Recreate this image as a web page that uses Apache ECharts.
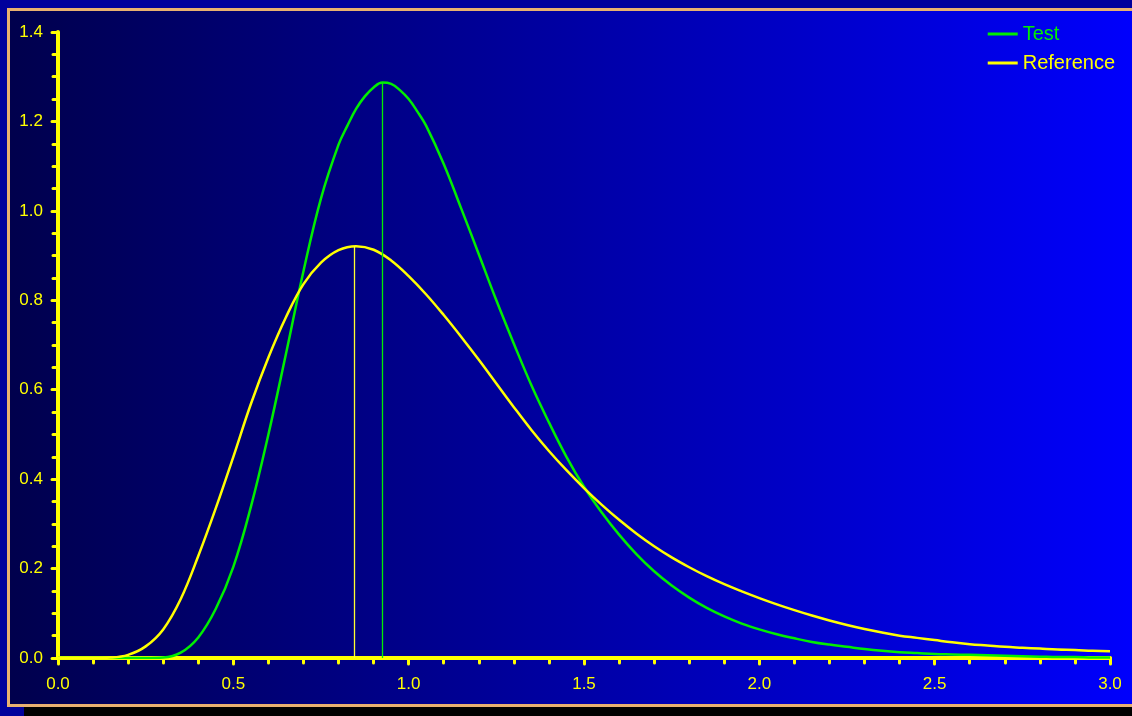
<!DOCTYPE html>
<html>
<head>
<meta charset="utf-8">
<script src="https://cdn.jsdelivr.net/npm/echarts@6/dist/echarts.min.js"></script>
<style>
html,body{margin:0;padding:0;background:#00009c;}
#c{width:1132px;height:716px;}
</style>
</head>
<body>
<div id="c"></div>
<script>
// ---- data ----
const testX = [0,0.05,0.1,0.15,0.2,0.25,0.3,0.35,0.4,0.45,0.5,0.55,0.6,0.65,0.7,0.75,
  0.8,0.825,0.85,0.875,0.9,0.925,0.95,0.975,1.0,1.025,1.05,
  1.1,1.15,1.2,1.25,1.3,1.35,1.4,1.45,1.5,1.55,1.6,1.65,1.7,1.75,1.8,1.85,1.9,1.95,
  2.0,2.05,2.1,2.15,2.2,2.25,2.3,2.35,2.4,2.45,2.5,2.55,2.6,2.65,2.7,2.75,2.8,2.85,2.9,2.95,3.0];
const testValues = [0,0,0,0,0,0,0.001,0.012,0.046,0.110,0.204,0.338,0.500,0.680,0.865,1.028,
  1.148,1.190,1.228,1.256,1.276,1.287,1.284,1.270,1.250,1.222,1.190,
  1.105,1.005,0.903,0.800,0.703,0.610,0.527,0.450,0.383,0.326,0.276,0.232,0.194,0.162,0.135,0.112,0.093,0.077,
  0.064,0.053,0.044,0.036,0.030,0.025,0.020,0.016,0.013,0.011,0.009,0.008,0.007,0.006,0.005,0.004,0.003,0.002,0.002,0.001,0.001];
const referenceX = [0,0.05,0.1,0.15,0.2,0.25,0.3,0.35,0.4,0.45,0.5,0.55,0.6,0.65,0.7,0.75,0.8,0.85,0.9,0.95,
  1.0,1.05,1.1,1.15,1.2,1.25,1.3,1.35,1.4,1.45,1.5,1.55,1.6,1.65,1.7,1.75,1.8,1.85,1.9,1.95,
  2.0,2.05,2.1,2.15,2.2,2.25,2.3,2.35,2.4,2.45,2.5,2.55,2.6,2.65,2.7,2.75,2.8,2.85,2.9,2.95,3.0];
const referenceValues = [0,0,0,0.001,0.007,0.026,0.064,0.132,0.228,0.335,0.450,0.568,0.672,0.762,0.836,0.884,0.912,0.921,0.913,0.889,
  0.854,0.813,0.767,0.718,0.667,0.614,0.561,0.510,0.463,0.420,0.380,0.343,0.309,0.278,0.250,0.225,0.203,0.183,0.165,0.149,
  0.134,0.120,0.107,0.095,0.084,0.074,0.065,0.057,0.050,0.045,0.040,0.035,0.031,0.028,0.025,0.023,0.021,0.019,0.018,0.016,0.015];
const testPeak = [0.924, 1.287];
const referencePeak = [0.845, 0.921];
const seriesNames = ['Test', 'Reference'];
const xTicks = [0, 3, 0.5];   // min, max, interval
const yTicks = [0, 1.4, 0.2];

const GREEN = '#00ee00';
const YELLOW = '#ffff00';
const FONT = 'Liberation Sans, Arial, sans-serif';

const chart = echarts.init(document.getElementById('c'), null, {renderer: 'canvas'});

function modeLine(peak, color) {
  return {
    silent: true,
    symbol: ['none', 'none'],
    label: {show: false},
    lineStyle: {color: color, width: 1.3, type: 'solid'},
    data: [[{coord: [peak[0], 0]}, {coord: [peak[0], peak[1]]}]],
    animation: false
  };
}

chart.setOption({
  animation: false,
  backgroundColor: '#00009c',
  graphic: [
    {type: 'rect', z: -10, shape: {x: 24, y: 20, width: 1130, height: 700}, style: {fill: '#000000'}},
    {type: 'rect', z: -9, shape: {x: 8.5, y: 9.5, width: 1140, height: 696},
      style: {
        fill: new echarts.graphic.LinearGradient(0, 0, 1, 0, [
          {offset: 0, color: '#00004c'},
          {offset: 1, color: '#0000ff'}
        ]),
        stroke: '#e8b070', lineWidth: 3
      }}
  ],
  grid: {left: 58, right: 22, top: 32, bottom: 58, containLabel: false},
  legend: {
    orient: 'vertical', right: 12, top: 19,
    itemWidth: 30, itemHeight: 3, itemGap: 9,
    textStyle: {fontSize: 20, fontFamily: FONT},
    data: [
      {name: seriesNames[0], icon: 'rect', itemStyle: {color: GREEN}, textStyle: {color: GREEN}},
      {name: seriesNames[1], icon: 'rect', itemStyle: {color: YELLOW}, textStyle: {color: YELLOW}}
    ]
  },
  xAxis: {
    type: 'value', min: xTicks[0], max: xTicks[1], interval: xTicks[2],
    axisLine: {onZero: false, lineStyle: {color: YELLOW, width: 4}},
    axisTick: {show: true, length: 6, lineStyle: {color: YELLOW, width: 3, cap: 'round'}},
    minorTick: {show: true, splitNumber: 5, length: 5, lineStyle: {color: YELLOW, width: 3, cap: 'round'}},
    splitLine: {show: false},
    axisLabel: {color: YELLOW, fontSize: 17, fontFamily: FONT, margin: 18, formatter: v => v.toFixed(1)}
  },
  yAxis: {
    type: 'value', min: yTicks[0], max: yTicks[1], interval: yTicks[2],
    axisLine: {show: true, onZero: false, lineStyle: {color: YELLOW, width: 4}},
    axisTick: {show: true, length: 6, lineStyle: {color: YELLOW, width: 3, cap: 'round'}},
    minorTick: {show: true, splitNumber: 4, length: 5, lineStyle: {color: YELLOW, width: 3, cap: 'round'}},
    splitLine: {show: false},
    axisLabel: {color: YELLOW, fontSize: 17, fontFamily: FONT, margin: 15, formatter: v => v.toFixed(1)}
  },
  series: [
    {
      name: seriesNames[0], type: 'line', symbol: 'none', smooth: 0.4,
      lineStyle: {color: GREEN, width: 2.5}, itemStyle: {color: GREEN},
      data: testX.map((x, i) => [x, testValues[i]]),
      markLine: modeLine(testPeak, GREEN)
    },
    {
      name: seriesNames[1], type: 'line', symbol: 'none', smooth: 0.4,
      lineStyle: {color: YELLOW, width: 2.5}, itemStyle: {color: YELLOW},
      data: referenceX.map((x, i) => [x, referenceValues[i]]),
      markLine: modeLine(referencePeak, '#ffff30')
    }
  ]
});
</script>
</body>
</html>
